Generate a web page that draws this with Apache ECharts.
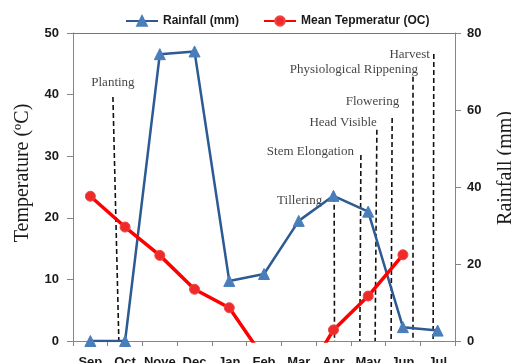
<!DOCTYPE html>
<html>
<head>
<meta charset="utf-8">
<script src="https://cdn.jsdelivr.net/npm/echarts@6/dist/echarts.min.js"></script>
<style>
  html, body { margin: 0; padding: 0; background: #fff; }
  #chart { width: 511px; height: 363px; }
</style>
</head>
<body>
<div id="chart"></div>
<script>
// Monthly climate over the growing season
const months = ['Sep', 'Oct', 'Nove', 'Dec', 'Jan', 'Feb', 'Mar', 'Apr', 'May', 'Jun', 'Jul'];
const rainfall = [0, 0, 74.5, 75.2, 15.6, 17.4, 31.2, 37.7, 33.6, 3.6, 2.7];
const meanTemp = [23.5, 18.5, 13.9, 8.4, 5.4, -2.8, -7.6, 1.8, 7.3, 14.0, '-'];

// Crop growth stages: position on the month scale (0 = start of Sep),
// top and bottom of each marker line, and the marker height (°C scale)
const stageNames = ['Planting', 'Tillering', 'Stem Elongation', 'Head Visible', 'Flowering', 'Physiological Rippening', 'Harvest'];
const stageTopX = [1.15, 7.52, 8.29, 8.75, 9.19, 9.79, 10.39];
const stageBottomX = [1.32, 7.53, 8.26, 8.70, 9.16, 9.79, 10.37];
const stageTopY = [39.6, 23.4, 30.2, 34.3, 36.2, 42.9, 46.6];

const tempTicks = { min: 0, max: 50, interval: 10 };
const rainTicks = { min: 0, max: 80, interval: 20 };

// label placement for each stage name relative to its line top
const stageLabelLayout = [
  { align: 'center', dx: 0, dy: -14 },
  { align: 'right', dx: -12, dy: 4 },
  { align: 'right', dx: -7, dy: -3 },
  { align: 'right', dx: 0, dy: -7 },
  { align: 'right', dx: 7, dy: -16 },
  { align: 'right', dx: 5, dy: -7 },
  { align: 'right', dx: -4, dy: 1 }
];

const axisGrey = '#868686';
const tickFont = { fontFamily: 'Liberation Sans', fontWeight: 'bold', fontSize: 13, color: '#1a1a1a' };
const serif = 'Liberation Serif';

const chart = echarts.init(document.getElementById('chart'), null, { renderer: 'canvas' });

const stageLines = stageNames.map((name, i) => ({
  coords: [[stageTopX[i], stageTopY[i]], [stageBottomX[i], 0]]
}));

const stageLabels = stageNames.map((name, i) => ({
  value: [stageTopX[i], stageTopY[i]],
  label: {
    show: true,
    formatter: name,
    position: [stageLabelLayout[i].dx, stageLabelLayout[i].dy],
    align: stageLabelLayout[i].align,
    verticalAlign: 'middle'
  }
}));

chart.setOption({
  animation: false,
  backgroundColor: '#fff',
  grid: { left: 73, right: 56, top: 33, bottom: 22, containLabel: false, outerBoundsMode: 'none' },
  legend: {
    data: ['Rainfall (mm)', 'Mean Tepmeratur (OC)'],
    top: 10,
    left: 120,
    itemWidth: 32,
    itemHeight: 12,
    itemGap: 24,
    textStyle: { fontFamily: 'Liberation Sans', fontWeight: 'bold', fontSize: 12, color: '#1a1a1a' }
  },
  xAxis: [
    {
      type: 'category',
      data: months,
      boundaryGap: true,
      axisLine: { show: true, lineStyle: { color: axisGrey, width: 1 } },
      axisTick: { show: true, length: 5, inside: false, lineStyle: { color: axisGrey } },
      axisLabel: Object.assign({ margin: 15, interval: 0 }, tickFont),
      splitLine: { show: false }
    },
    {
      type: 'value',
      position: 'top',
      min: 0,
      max: 11,
      axisLine: { show: true, onZero: false, lineStyle: { color: '#5a7aae', width: 1 } },
      axisTick: { show: false },
      axisLabel: { show: false },
      splitLine: { show: false }
    }
  ],
  yAxis: [
    {
      type: 'value',
      position: 'left',
      min: tempTicks.min,
      max: tempTicks.max,
      interval: tempTicks.interval,
      name: 'Temperature (ºC)',
      nameLocation: 'middle',
      nameGap: 40,
      nameTextStyle: { fontFamily: serif, fontSize: 20, color: '#1a1a1a', padding: [0, 0, 0, 28] },
      axisLine: { show: true, lineStyle: { color: axisGrey } },
      axisTick: { show: true, length: 6, lineStyle: { color: axisGrey } },
      axisLabel: Object.assign({ margin: 14 }, tickFont),
      splitLine: { show: false }
    },
    {
      type: 'value',
      position: 'right',
      min: rainTicks.min,
      max: rainTicks.max,
      interval: rainTicks.interval,
      name: 'Rainfall (mm)',
      nameLocation: 'middle',
      nameGap: 41,
      nameRotate: 90,
      nameTextStyle: { fontFamily: serif, fontSize: 20, color: '#1a1a1a', padding: [0, 0, 0, 38] },
      axisLine: { show: true, lineStyle: { color: axisGrey } },
      axisTick: { show: true, length: 6, lineStyle: { color: axisGrey } },
      axisLabel: Object.assign({ margin: 12 }, tickFont),
      splitLine: { show: false }
    }
  ],
  series: [
    {
      name: 'stages',
      type: 'lines',
      coordinateSystem: 'cartesian2d',
      xAxisIndex: 1,
      yAxisIndex: 0,
      silent: true,
      z: 1,
      lineStyle: { color: '#111', width: 1.6, type: [5, 3], opacity: 1 },
      data: stageLines
    },
    {
      name: 'stageNames',
      type: 'scatter',
      xAxisIndex: 1,
      yAxisIndex: 0,
      symbolSize: 0,
      silent: true,
      z: 1,
      label: { fontFamily: serif, fontSize: 13, color: '#111' },
      data: stageLabels
    },
    {
      name: 'Rainfall (mm)',
      type: 'line',
      xAxisIndex: 0,
      yAxisIndex: 1,
      data: rainfall,
      symbol: 'triangle',
      symbolSize: 11,
      clip: true,
      z: 3,
      lineStyle: { color: '#2c5a93', width: 2.5 },
      itemStyle: { color: '#4a7ebb', borderColor: '#4a7ebb', borderWidth: 1 }
    },
    {
      name: 'Mean Tepmeratur (OC)',
      type: 'line',
      xAxisIndex: 0,
      yAxisIndex: 0,
      data: meanTemp,
      symbol: 'circle',
      symbolSize: 10,
      clip: true,
      z: 4,
      lineStyle: { color: '#ff0000', width: 3.5 },
      itemStyle: { color: '#ee2a2a', borderColor: '#f04545', borderWidth: 1 }
    }
  ]
});
</script>
</body>
</html>
